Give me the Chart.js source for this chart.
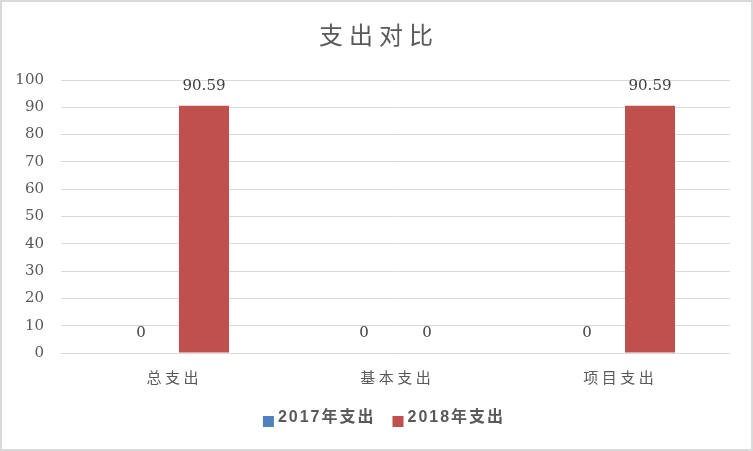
<!DOCTYPE html>
<html>
<head>
<meta charset="utf-8">
<script src="https://cdn.jsdelivr.net/npm/chart.js@4/dist/chart.umd.min.js"></script>
<style>
  html, body { margin: 0; padding: 0; background: #fff; }
  canvas { display: block; }
</style>
</head>
<body>
<canvas id="grafico" width="753" height="451"></canvas>
<script>
// datos del gráfico
const titulo = "支出对比";
const categorias = ["总支出", "基本支出", "项目支出"];
const series = ["2017年支出", "2018年支出"];
const valores2017 = [0, 0, 0];
const valores2018 = [90.59, 0, 90.59];
const colores = ["#4f81bd", "#c0504d"];

const numFont = "'DejaVu Serif', serif";
const cjkFont = "'Noto Sans CJK SC', sans-serif";

// marco gris alrededor de todo el gráfico
const marco = {
  id: "marco",
  beforeDraw(chart) {
    const ctx = chart.ctx;
    ctx.save();
    ctx.strokeStyle = "#d9d9d9";
    ctx.lineWidth = 2;
    ctx.strokeRect(1, 1, chart.width - 2, chart.height - 2);
    ctx.restore();
  }
};

// etiquetas con el valor encima de cada barra
const etiquetas = {
  id: "etiquetas",
  afterDatasetsDraw(chart) {
    const ctx = chart.ctx;
    ctx.save();
    ctx.font = "15px " + numFont;
    ctx.fillStyle = "#404040";
    ctx.textAlign = "center";
    ctx.textBaseline = "middle";
    chart.data.datasets.forEach((ds, i) => {
      chart.getDatasetMeta(i).data.forEach((bar, j) => {
        ctx.fillText(String(ds.data[j]), bar.x, bar.y - 20);
      });
    });
    ctx.restore();
  }
};

// título, categorías y leyenda con espaciado entre caracteres
const textos = {
  id: "textos",
  afterDraw(chart) {
    const ctx = chart.ctx;
    ctx.save();
    ctx.textBaseline = "middle";
    ctx.textAlign = "left";

    // título
    ctx.font = "24px " + cjkFont;
    ctx.fillStyle = "#595959";
    ctx.letterSpacing = "6px";
    let w = ctx.measureText(titulo).width - 6;
    ctx.fillText(titulo, 376 - w / 2, 35);

    // categorías del eje x
    const x = chart.scales.x;
    ctx.font = "15px " + cjkFont;
    ctx.letterSpacing = "3.5px";
    categorias.forEach((c, i) => {
      const cw = ctx.measureText(c).width - 3.5;
      ctx.fillText(c, x.getPixelForValue(i) - cw / 2, 377);
    });

    // leyenda
    ctx.font = "bold 16px 'Liberation Sans', " + cjkFont;
    ctx.letterSpacing = "2px";
    const anchos = series.map((s) => ctx.measureText(s).width - 2);
    const total = anchos.reduce((a, b) => a + b, 0) + series.length * 15 + 19;
    let px = 383 - total / 2;
    series.forEach((s, i) => {
      ctx.fillStyle = colores[i];
      ctx.fillRect(px, 416, 11, 11);
      ctx.fillStyle = "#595959";
      ctx.fillText(s, px + 15, 418);
      px += 15 + anchos[i] + 19;
    });
    ctx.restore();
  }
};

new Chart(document.getElementById("grafico"), {
  type: "bar",
  data: {
    labels: categorias,
    datasets: [
      { label: series[0], data: valores2017, backgroundColor: colores[0] },
      { label: series[1], data: valores2018, backgroundColor: colores[1] }
    ]
  },
  options: {
    responsive: false,
    animation: false,
    events: [],
    datasets: { bar: { categoryPercentage: 0.565, barPercentage: 0.794 } },
    layout: { padding: { left: 0, right: 23, top: 80, bottom: 0 } },
    plugins: {
      title: { display: false },
      legend: { display: false },
      tooltip: { enabled: false }
    },
    scales: {
      x: {
        afterFit: (s) => { s.height = 98; s.paddingLeft = 0; s.paddingRight = 0; },
        grid: { display: false },
        border: { display: false },
        ticks: { display: false }
      },
      y: {
        min: 0,
        max: 100,
        afterFit: (s) => { s.width = 61; s.paddingTop = 0; s.paddingBottom = 0; },
        grid: { color: "#d9d9d9", drawTicks: false },
        border: { display: false },
        ticks: { stepSize: 10, color: "#595959", padding: 17, font: { family: numFont, size: 15 } }
      }
    }
  },
  plugins: [marco, etiquetas, textos]
});
</script>
</body>
</html>
